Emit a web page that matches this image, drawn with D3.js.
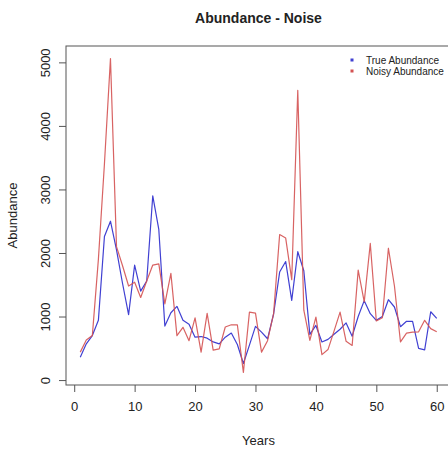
<!DOCTYPE html>
<html>
<head>
<meta charset="utf-8">
<script src="https://cdn.jsdelivr.net/npm/d3@7/dist/d3.min.js"></script>
<style>
  html, body { margin: 0; padding: 0; background: #ffffff; }
  svg { display: block; }
  text { font-family: "Liberation Sans", Arial, sans-serif; fill: #222; }
</style>
</head>
<body>
<svg id="chart" width="448" height="449"></svg>
<script>
// Simulated population: true abundance vs. abundance observed with noise
const years = [1,2,3,4,5,6,7,8,9,10,11,12,13,14,15,16,17,18,19,20,
               21,22,23,24,25,26,27,28,29,30,31,32,33,34,35,36,37,38,39,40,
               41,42,43,44,45,46,47,48,49,50,51,52,53,54,55,56,57,58,59,60];

const trueAbundance = [360,570,700,940,2260,2500,2050,1520,1030,1810,
                       1400,1560,2900,2370,850,1060,1160,940,880,675,
                       685,660,600,570,675,740,560,260,550,845,
                       755,650,1040,1700,1865,1255,2020,1720,720,860,
                       600,640,720,800,900,690,1000,1250,1045,940,
                       1000,1265,1150,840,925,925,500,475,1075,970];

const noisyAbundance = [440,630,700,1900,3400,5060,2100,1800,1480,1540,
                        1300,1560,1810,1830,1200,1680,700,830,620,980,
                        440,1050,470,490,835,870,870,120,1070,1055,
                        440,620,1045,2290,2235,1580,4560,1100,625,990,
                        400,480,770,1070,610,545,1730,1230,2150,930,
                        980,2075,1480,600,740,755,760,940,810,760];

const xTicks = [0,10,20,30,40,50,60];
const yTicks = [0,1000,2000,3000,4000,5000];
const seriesNames = ["True Abundance", "Noisy Abundance"];
const seriesColors = ["#4040d2", "#d45252"];

const svg = d3.select("#chart");
const box = { left: 66, right: 451, top: 46, bottom: 385 };

// R-style axis limits: data range widened by 4% on each side
function padded(ext) {
  const d = (ext[1] - ext[0]) * 0.04;
  return [ext[0] - d, ext[1] + d];
}
const x = d3.scaleLinear()
  .domain(padded(d3.extent(years)))
  .range([box.left, box.right]);
const allVals = trueAbundance.concat(noisyAbundance);
const y = d3.scaleLinear()
  .domain(padded(d3.extent(allVals)))
  .range([box.bottom, box.top]);

// axes
const xAxis = d3.axisBottom(x).tickValues(xTicks).tickSize(7).tickPadding(10).tickFormat(d3.format("d"));
const gx = svg.append("g").attr("transform", `translate(0,${box.bottom})`).call(xAxis);
gx.select(".domain").remove();
gx.selectAll("line").attr("stroke", "#555");
gx.selectAll("text").style("font-size", "13px").attr("fill", "#333");

const yAxis = d3.axisLeft(y).tickValues(yTicks).tickSize(7).tickFormat(d3.format("d"));
const gy = svg.append("g").attr("transform", `translate(${box.left},0)`).call(yAxis);
gy.select(".domain").remove();
gy.selectAll("line").attr("stroke", "#555");
gy.selectAll("text")
  .style("font-size", "13px")
  .attr("fill", "#333")
  .attr("text-anchor", "middle")
  .attr("dy", null)
  .attr("x", null)
  .attr("transform", "translate(-21,0) rotate(-90)")
  .attr("dominant-baseline", "central");

// plot frame
svg.append("rect")
  .attr("x", box.left).attr("y", box.top)
  .attr("width", box.right - box.left).attr("height", box.bottom - box.top)
  .attr("fill", "none").attr("stroke", "#555").attr("stroke-width", 1);

// series lines
const line = vals => d3.line()
  .x((d, i) => x(years[i]))
  .y(d => y(d))(vals);

svg.append("path")
  .attr("d", line(trueAbundance))
  .attr("fill", "none").attr("stroke", seriesColors[0])
  .attr("stroke-width", 1.2).attr("stroke-linejoin", "round");

svg.append("path")
  .attr("d", line(noisyAbundance))
  .attr("fill", "none").attr("stroke", seriesColors[1])
  .attr("stroke-width", 1.2).attr("stroke-linejoin", "round")
  .attr("opacity", 0.9);

// titles
const cx = (box.left + box.right) / 2;
svg.append("text")
  .attr("x", cx).attr("y", 23)
  .attr("text-anchor", "middle")
  .style("font-size", "14px").style("font-weight", "bold")
  .attr("fill", "#000")
  .text("Abundance - Noise");

svg.append("text")
  .attr("x", cx).attr("y", 445)
  .attr("text-anchor", "middle")
  .style("font-size", "13px")
  .attr("fill", "#333")
  .text("Years");

svg.append("text")
  .attr("transform", `translate(17,${(box.top + box.bottom) / 2}) rotate(-90)`)
  .attr("text-anchor", "middle")
  .style("font-size", "13px")
  .attr("fill", "#333")
  .text("Abundance");

// legend (no frame)
const lg = svg.append("g").attr("transform", "translate(352,60)");
seriesNames.forEach((name, i) => {
  const row = lg.append("g").attr("transform", `translate(0,${i * 11})`);
  row.append("rect").attr("x", -1.5).attr("y", -1.5).attr("width", 3).attr("height", 3)
    .attr("fill", seriesColors[i]);
  row.append("text").attr("x", 14).attr("y", 0)
    .attr("dominant-baseline", "central")
    .style("font-size", "10px")
    .text(name);
});
</script>
</body>
</html>
